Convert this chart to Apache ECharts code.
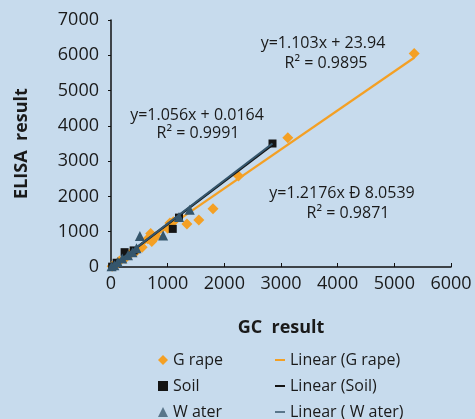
<!DOCTYPE html>
<html>
<head>
<meta charset="utf-8">
<script src="https://cdn.jsdelivr.net/npm/echarts@6/dist/echarts.min.js"></script>
<style>
html,body{margin:0;padding:0;background:#c7dbed;}
#chart{width:475px;height:419px;}
</style>
</head>
<body>
<div id="chart"></div>
<script>
// Series values: [GC result, ELISA result]
const grapePoints = [[20,20],[80,60],[150,170],[250,250],[350,380],[450,450],[550,560],[650,800],[700,950],[720,720],[800,870],[1000,1100],[1040,1250],[1100,1280],[1340,1220],[1550,1330],[1800,1650],[2250,2580],[3120,3660],[5350,6050]];
const soilPoints = [[20,10],[100,120],[240,420],[400,470],[1090,1080],[1200,1400],[2850,3500]];
const waterPoints = [[10,20],[60,50],[120,140],[200,240],[300,330],[380,420],[450,530],[510,880],[920,890],[1200,1420],[1390,1620]];
// Trendline end points
const grapeTrend = [[0,20],[5350,5930]];
const soilTrend = [[0,0],[2850,3460]];
const waterTrend = [[0,0],[2850,3500]];
// Axis ticks
const xTicks = [0,1000,2000,3000,4000,5000,6000];
const yTicks = [0,1000,2000,3000,4000,5000,6000,7000];
// Labels
const seriesNames = ['G rape','Soil','W ater'];
const trendNames = ['Linear (G rape)','Linear (Soil)','Linear ( W ater)'];
const eqLabels = [
  ['y=1.103x + 23.94','R² = 0.9895'],
  ['y=1.056x + 0.0164','R² = 0.9991'],
  ['y=1.2176x Ð 8.0539','R² = 0.9871']
];

const FONT = '"Open Sans", "Noto Sans", sans-serif';
const TXT = '#1a1a1a';
const ORANGE = '#f4a024';
const SOIL = '#141414';
const WATER = '#35566c';
const WATER_LEG = '#5a768a';

const chart = echarts.init(document.getElementById('chart'), null, {renderer:'canvas'});

function eqGraphic(lines, cx1, cy1, cx2, cy2) {
  return [
    {type:'text', x:cx1, y:cy1, style:{text:lines[0], fill:TXT, font:'16px ' + FONT, textAlign:'center', textVerticalAlign:'middle'}},
    {type:'text', x:cx2, y:cy2, style:{text:lines[1], fill:TXT, font:'16px ' + FONT, textAlign:'center', textVerticalAlign:'middle'}}
  ];
}

const option = {
  backgroundColor:'#c7dbed',
  animation:false,
  grid:{left:111, right:24, top:20, bottom:152, containLabel:false},
  xAxis:{
    type:'value', min:xTicks[0], max:xTicks[xTicks.length-1], interval:1000,
    name:'GC  result', nameLocation:'middle', nameGap:52,
    nameTextStyle:{fontFamily:FONT, fontSize:18, fontWeight:'bold', color:TXT},
    axisLine:{show:true, lineStyle:{color:'#111', width:1.5}},
    axisTick:{show:true, inside:true, length:4, lineStyle:{color:'#111'}},
    axisLabel:{fontFamily:FONT, fontSize:18, color:TXT, margin:8, formatter:function(v){return String(v);}},
    splitLine:{show:false}
  },
  yAxis:{
    type:'value', min:yTicks[0], max:yTicks[yTicks.length-1], interval:1000,
    name:'ELISA  result', nameLocation:'middle', nameGap:80, nameRotate:90,
    nameTextStyle:{fontFamily:FONT, fontSize:18, fontWeight:'bold', color:TXT},
    axisLine:{show:true, lineStyle:{color:'#111', width:1.5}},
    axisTick:{show:true, inside:false, length:3, lineStyle:{color:'#111'}},
    axisLabel:{fontFamily:FONT, fontSize:18, color:TXT, margin:12, formatter:function(v){return String(v);}},
    splitLine:{show:false}
  },
  legend:[
    {
      orient:'vertical', left:158, top:351, height:120, padding:0, itemGap:8, itemWidth:10, itemHeight:10,
      textStyle:{fontFamily:FONT, fontSize:16, color:TXT, lineHeight:18},
      data:[
        {name:seriesNames[0], icon:'diamond', itemStyle:{color:ORANGE}},
        {name:seriesNames[1], icon:'rect', itemStyle:{color:SOIL}},
        {name:seriesNames[2], icon:'triangle', itemStyle:{color:WATER_LEG}}
      ]
    },
    {
      orient:'vertical', left:275, top:351, height:120, padding:0, itemGap:8, itemWidth:10, itemHeight:2,
      textStyle:{fontFamily:FONT, fontSize:16, color:TXT, lineHeight:18},
      data:[
        {name:trendNames[0], icon:'rect'},
        {name:trendNames[1], icon:'rect'},
        {name:trendNames[2], icon:'rect', itemStyle:{color:WATER_LEG}}
      ]
    }
  ],
  series:[
    {name:seriesNames[0], type:'scatter', symbol:'diamond', symbolSize:11, data:grapePoints, itemStyle:{color:ORANGE, opacity:1}, z:2},
    {name:trendNames[0], type:'line', data:grapeTrend, showSymbol:false, symbol:'none', lineStyle:{color:ORANGE, width:2.2}, itemStyle:{color:ORANGE}, z:3},
    {name:seriesNames[1], type:'scatter', symbol:'rect', symbolSize:8, data:soilPoints, itemStyle:{color:SOIL, opacity:1}, z:4},
    {name:trendNames[1], type:'line', data:soilTrend, showSymbol:false, symbol:'none', lineStyle:{color:SOIL, width:2.2}, itemStyle:{color:SOIL}, z:5},
    {name:seriesNames[2], type:'scatter', symbol:'triangle', symbolSize:10, data:waterPoints, itemStyle:{color:WATER, opacity:1}, z:6},
    {name:trendNames[2], type:'line', data:waterTrend, showSymbol:false, symbol:'none', lineStyle:{color:WATER, width:2.2}, itemStyle:{color:WATER}, z:7}
  ],
  graphic:[].concat(
    eqGraphic(eqLabels[0], 323, 43, 326, 63),
    eqGraphic(eqLabels[1], 197, 115, 198, 133),
    eqGraphic(eqLabels[2], 342, 193, 348, 213)
  )
};
chart.setOption(option);
</script>
</body>
</html>
